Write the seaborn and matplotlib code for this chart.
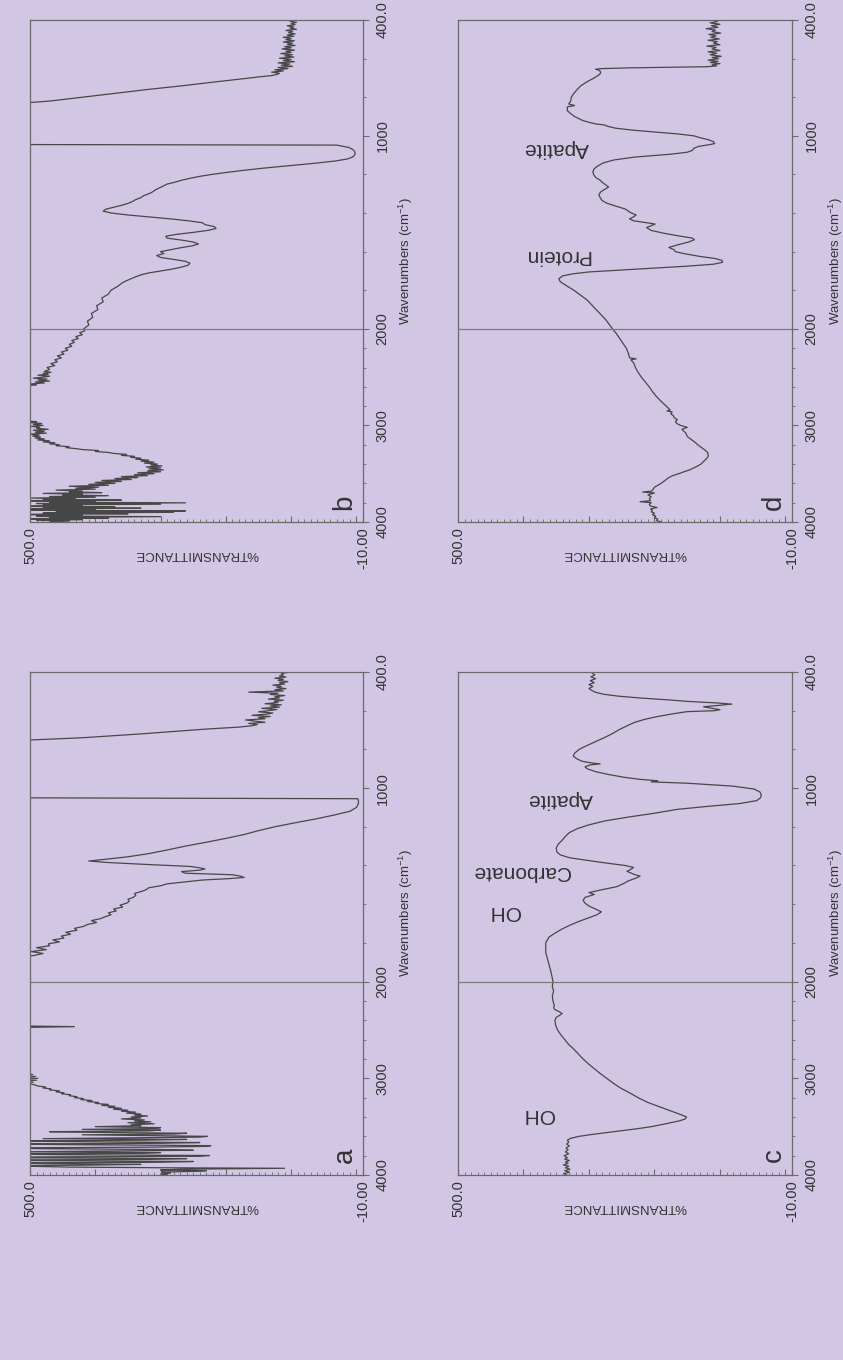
import numpy as np
import matplotlib
matplotlib.use("Agg")
import matplotlib.pyplot as plt
import seaborn as sns
from matplotlib.ticker import FixedLocator, FixedFormatter, MultipleLocator

# Spectra: (wavenumber cm-1, %transmittance); values > 500 run off the plot
spec_a = [(4000, 290), (3990, 300), (3980, 285), (3970, 298), (3962, 250), (3955, 230), (3948, 300),
          (3940, 270), (3930, 110), (3925, 290), (3918, 440), (3910, 495), (3905, 560), (3898, 420),
          (3890, 330), (3882, 480), (3875, 560), (3868, 300), (3860, 250), (3852, 470), (3845, 560),
          (3838, 320), (3830, 260), (3822, 500), (3815, 560), (3806, 240), (3798, 225), (3790, 450),
          (3782, 560), (3775, 330), (3768, 300), (3760, 520), (3752, 380), (3744, 250), (3736, 300),
          (3728, 480), (3720, 560), (3712, 320), (3704, 230), (3696, 223), (3688, 400), (3680, 560),
          (3672, 300), (3664, 240), (3656, 420), (3648, 560), (3640, 330), (3632, 260), (3624, 480),
          (3616, 360), (3608, 240), (3600, 228), (3592, 330), (3584, 420), (3576, 280), (3568, 260),
          (3560, 390), (3552, 470), (3544, 320), (3536, 300), (3528, 420), (3520, 310), (3510, 300),
          (3500, 400), (3490, 330), (3480, 345), (3470, 310), (3460, 350), (3450, 315), (3440, 340),
          (3430, 325), (3420, 360), (3410, 330), (3400, 345), (3390, 320), (3380, 340), (3370, 330),
          (3360, 352), (3350, 338), (3340, 360), (3330, 350), (3320, 372), (3310, 360), (3300, 380),
          (3290, 370), (3280, 390), (3270, 380), (3260, 400), (3250, 395), (3240, 412), (3230, 405),
          (3220, 422), (3210, 418), (3200, 432), (3190, 428), (3180, 440), (3170, 438), (3160, 452),
          (3150, 448), (3140, 460), (3130, 455), (3120, 470), (3110, 468), (3100, 480), (3090, 476),
          (3080, 488), (3070, 492), (3060, 498), (3050, 540), (3040, 495), (3030, 540), (3020, 490),
          (3010, 560), (3000, 488), (2990, 540), (2980, 492), (2970, 560), (2960, 496), (2950, 560),
          (2480, 560), (2466, 432), (2455, 560), (1880, 560), (1866, 495), (1855, 480), (1845, 498),
          (1835, 475), (1825, 490), (1815, 470), (1805, 472), (1795, 455), (1785, 465), (1775, 448),
          (1765, 452), (1755, 438), (1745, 445), (1735, 428), (1725, 432), (1715, 418), (1705, 412),
          (1695, 398), (1685, 406), (1675, 392), (1665, 385), (1655, 376), (1645, 380), (1635, 368),
          (1625, 372), (1615, 358), (1605, 362), (1595, 352), (1585, 348), (1575, 350), (1565, 342),
          (1555, 338), (1545, 340), (1535, 330), (1525, 322), (1515, 318), (1505, 300), (1495, 290),
          (1485, 262), (1475, 235), (1468, 195), (1462, 172), (1455, 178), (1448, 190), (1440, 262),
          (1432, 268), (1424, 240), (1418, 232), (1412, 240), (1405, 255), (1395, 320), (1385, 380),
          (1377, 410), (1370, 390), (1355, 350), (1340, 320), (1320, 290), (1300, 262), (1280, 230),
          (1260, 200), (1240, 172), (1220, 150), (1200, 125), (1180, 95), (1160, 63), (1140, 35),
          (1120, 10), (1100, 0), (1080, -3), (1065, -3), (1055, -2), (1050, 560), (760, 560),
          (740, 420), (720, 330), (705, 270), (695, 230), (685, 180), (678, 160), (672, 152),
          (666, 165), (660, 140), (654, 155), (648, 170), (642, 140), (636, 150), (630, 132),
          (624, 160), (618, 138), (612, 128), (606, 150), (600, 135), (594, 122), (588, 145),
          (582, 118), (576, 132), (570, 115), (564, 140), (558, 120), (552, 126), (546, 112),
          (540, 135), (534, 118), (528, 125), (522, 110), (516, 132), (510, 120), (504, 165),
          (498, 112), (492, 125), (486, 108), (480, 122), (474, 115), (468, 128), (462, 110),
          (456, 118), (450, 105), (444, 120), (438, 112), (432, 125), (426, 108), (420, 118),
          (414, 112), (408, 115), (402, 105), (400, 108)]

spec_b = [(4000, 470), (3990, 440), (3982, 490), (3975, 420), (3968, 560), (3960, 380), (3952, 470),
          (3945, 300), (3938, 490), (3930, 420), (3922, 560), (3915, 350), (3908, 480), (3900, 280),
          (3893, 460), (3886, 262), (3879, 500), (3872, 400), (3865, 560), (3858, 330), (3851, 480),
          (3844, 370), (3837, 560), (3830, 420), (3823, 480), (3816, 300), (3809, 490), (3802, 262),
          (3795, 470), (3788, 400), (3781, 560), (3774, 360), (3767, 480), (3760, 430), (3752, 500),
          (3744, 400), (3736, 470), (3728, 380), (3720, 450), (3712, 420), (3704, 480), (3696, 390),
          (3688, 440), (3680, 420), (3670, 460), (3660, 400), (3650, 430), (3640, 395), (3630, 440),
          (3620, 380), (3610, 410), (3600, 370), (3590, 400), (3580, 360), (3570, 390), (3560, 345),
          (3550, 370), (3540, 335), (3530, 360), (3520, 320), (3510, 340), (3500, 310), (3490, 335),
          (3480, 300), (3470, 320), (3460, 296), (3450, 318), (3440, 300), (3430, 322), (3420, 298),
          (3410, 315), (3400, 305), (3390, 325), (3380, 310), (3370, 330), (3360, 318), (3350, 338),
          (3340, 330), (3330, 346), (3320, 340), (3310, 360), (3300, 352), (3290, 372), (3280, 380),
          (3270, 400), (3260, 395), (3250, 420), (3240, 430), (3230, 445), (3220, 440), (3210, 460),
          (3200, 455), (3190, 470), (3180, 462), (3170, 480), (3160, 470), (3150, 488), (3140, 478),
          (3130, 492), (3120, 484), (3110, 496), (3100, 486), (3090, 500), (3080, 475), (3070, 492),
          (3060, 478), (3050, 495), (3040, 472), (3030, 490), (3020, 485), (3010, 498), (3000, 480),
          (2990, 495), (2980, 482), (2970, 500), (2960, 490), (2950, 530), (2600, 530), (2580, 490),
          (2570, 498), (2560, 478), (2550, 492), (2540, 470), (2530, 488), (2520, 474), (2510, 495),
          (2500, 480), (2490, 470), (2480, 488), (2470, 472), (2460, 480), (2450, 468), (2440, 478),
          (2420, 470), (2400, 474), (2380, 462), (2360, 468), (2340, 458), (2320, 462), (2300, 452),
          (2280, 458), (2260, 448), (2240, 452), (2220, 442), (2200, 446), (2180, 436), (2160, 440),
          (2140, 432), (2120, 436), (2100, 426), (2080, 430), (2060, 420), (2040, 424), (2020, 416),
          (2000, 418), (1980, 410), (1960, 412), (1940, 404), (1920, 406), (1900, 396), (1880, 398),
          (1860, 388), (1840, 390), (1820, 380), (1800, 376), (1780, 366), (1760, 358), (1750, 352),
          (1740, 345), (1730, 338), (1720, 330), (1710, 318), (1700, 300), (1690, 282), (1680, 268),
          (1670, 258), (1660, 255), (1650, 262), (1640, 280), (1630, 300), (1620, 306), (1610, 295),
          (1600, 300), (1590, 285), (1580, 270), (1570, 252), (1560, 242), (1550, 250), (1540, 268),
          (1530, 290), (1520, 292), (1510, 275), (1500, 250), (1490, 228), (1480, 215), (1470, 218),
          (1460, 232), (1450, 236), (1440, 258), (1430, 285), (1420, 318), (1410, 350), (1400, 375),
          (1390, 388), (1380, 384), (1370, 372), (1360, 360), (1350, 350), (1340, 343), (1330, 338),
          (1320, 330), (1310, 326), (1300, 318), (1290, 312), (1280, 308), (1270, 302), (1260, 296),
          (1250, 290), (1240, 278), (1230, 268), (1220, 255), (1210, 240), (1200, 222), (1190, 200),
          (1180, 176), (1170, 150), (1160, 120), (1150, 88), (1140, 58), (1130, 32), (1120, 14),
          (1110, 6), (1100, 3), (1090, 2), (1080, 3), (1070, 6), (1060, 12), (1048, 30), (1045, 530),
          (835, 530), (820, 470), (800, 420), (780, 370), (760, 320), (740, 265), (720, 215),
          (705, 175), (695, 150), (688, 130), (682, 122), (676, 118), (670, 130), (664, 112),
          (658, 125), (652, 105), (646, 120), (640, 98), (634, 115), (628, 102), (622, 120),
          (616, 95), (610, 112), (604, 100), (598, 118), (592, 96), (586, 110), (580, 98),
          (574, 116), (568, 100), (562, 108), (556, 95), (550, 114), (544, 100), (538, 110),
          (532, 94), (526, 106), (520, 98), (514, 112), (508, 95), (502, 108), (496, 100),
          (490, 112), (484, 96), (478, 106), (472, 94), (466, 104), (460, 98), (454, 108),
          (448, 92), (442, 102), (436, 96), (430, 106), (424, 94), (418, 100), (412, 92),
          (406, 102), (400, 96)]

spec_c = [(4000, 334), (3985, 338), (3970, 330), (3955, 337), (3940, 329), (3925, 336), (3910, 331),
          (3895, 339), (3880, 332), (3865, 336), (3850, 330), (3835, 337), (3820, 333), (3800, 338),
          (3780, 331), (3760, 336), (3740, 332), (3720, 335), (3700, 330), (3680, 334), (3660, 331),
          (3640, 333), (3620, 328), (3600, 315), (3580, 295), (3560, 272), (3540, 248), (3520, 225),
          (3500, 205), (3480, 190), (3460, 176), (3440, 162), (3420, 153), (3400, 151), (3380, 158),
          (3350, 170), (3300, 190), (3250, 210), (3200, 225), (3150, 238), (3100, 252), (3050, 263),
          (3000, 273), (2950, 283), (2900, 292), (2850, 301), (2800, 309), (2750, 316), (2700, 323),
          (2650, 331), (2600, 337), (2550, 343), (2500, 348), (2450, 351), (2400, 352), (2370, 350),
          (2350, 345), (2330, 341), (2310, 346), (2290, 352), (2270, 354), (2250, 353), (2200, 355),
          (2150, 356), (2100, 354), (2050, 356), (2000, 355), (1950, 358), (1900, 362), (1850, 366),
          (1800, 366), (1770, 361), (1750, 352), (1730, 342), (1710, 330), (1690, 316), (1670, 300),
          (1655, 288), (1640, 281), (1625, 290), (1610, 300), (1595, 306), (1580, 309), (1565, 306),
          (1550, 292), (1540, 300), (1525, 280), (1510, 258), (1495, 248), (1480, 240), (1465, 228),
          (1455, 222), (1445, 232), (1430, 242), (1420, 236), (1410, 232), (1400, 245), (1390, 268),
          (1375, 300), (1360, 330), (1345, 344), (1330, 349), (1310, 350), (1290, 347), (1270, 341),
          (1250, 336), (1230, 330), (1210, 318), (1190, 300), (1170, 276), (1150, 240), (1130, 200),
          (1110, 165), (1095, 120), (1080, 70), (1065, 44), (1050, 38), (1035, 37), (1020, 39),
          (1005, 48), (990, 80), (975, 150), (968, 205), (962, 195), (955, 222), (945, 245),
          (930, 270), (915, 290), (900, 303), (890, 306), (880, 298), (875, 283), (870, 296),
          (862, 310), (850, 318), (835, 324), (820, 322), (800, 315), (780, 303), (760, 290),
          (740, 277), (720, 265), (700, 255), (680, 243), (660, 230), (645, 215), (630, 195),
          (615, 170), (605, 150), (600, 108), (595, 100), (588, 112), (580, 125), (572, 100),
          (566, 82), (560, 105), (552, 150), (545, 175), (535, 220), (525, 255), (515, 278),
          (505, 290), (495, 296), (485, 300), (475, 294), (465, 300), (455, 292), (445, 298),
          (435, 290), (425, 297), (415, 291), (405, 295), (400, 292)]

spec_d = [(4000, 190), (3985, 197), (3970, 195), (3955, 200), (3940, 198), (3925, 203), (3910, 200),
          (3895, 205), (3880, 203), (3865, 206), (3850, 196), (3835, 206), (3820, 208), (3800, 205),
          (3790, 222), (3780, 206), (3760, 208), (3740, 205), (3720, 210), (3700, 200), (3690, 218),
          (3680, 204), (3660, 202), (3640, 200), (3620, 195), (3600, 190), (3580, 186), (3560, 182),
          (3540, 178), (3520, 172), (3500, 163), (3480, 155), (3460, 146), (3440, 140), (3420, 134),
          (3400, 129), (3380, 126), (3360, 123), (3340, 120), (3320, 118), (3300, 118), (3280, 119),
          (3260, 122), (3240, 126), (3220, 130), (3200, 134), (3180, 137), (3160, 141), (3140, 145),
          (3120, 149), (3100, 151), (3080, 152), (3060, 155), (3040, 158), (3020, 150), (3000, 160),
          (2980, 166), (2960, 168), (2940, 165), (2920, 170), (2900, 171), (2880, 175), (2860, 173),
          (2850, 181), (2840, 176), (2800, 182), (2750, 190), (2700, 197), (2650, 203), (2600, 208),
          (2550, 214), (2500, 220), (2450, 225), (2400, 229), (2350, 232), (2320, 236), (2310, 228),
          (2300, 238), (2250, 240), (2200, 243), (2150, 248), (2100, 253), (2050, 258), (2000, 264),
          (1950, 275), (1900, 289), (1850, 303), (1800, 323), (1775, 335), (1755, 344), (1740, 346),
          (1725, 340), (1715, 325), (1705, 300), (1695, 250), (1685, 200), (1675, 150), (1665, 110),
          (1655, 96), (1645, 97), (1635, 108), (1625, 130), (1610, 155), (1600, 168), (1590, 170),
          (1578, 178), (1565, 165), (1550, 148), (1538, 139), (1530, 142), (1520, 160), (1505, 185),
          (1490, 205), (1475, 212), (1465, 205), (1457, 199), (1450, 212), (1440, 232), (1430, 238),
          (1420, 232), (1410, 228), (1400, 235), (1390, 240), (1380, 244), (1365, 258), (1350, 272),
          (1335, 280), (1320, 283), (1305, 285), (1290, 282), (1275, 275), (1265, 270), (1250, 276),
          (1240, 280), (1230, 283), (1215, 290), (1200, 293), (1185, 294), (1170, 292), (1155, 286),
          (1140, 278), (1125, 262), (1110, 230), (1095, 175), (1085, 150), (1075, 142), (1065, 140),
          (1055, 133), (1045, 115), (1040, 108), (1030, 110), (1020, 118), (1010, 130), (1000, 140),
          (990, 165), (980, 200), (970, 235), (960, 260), (950, 272), (944, 276), (938, 290),
          (930, 300), (920, 310), (900, 322), (885, 328), (870, 333), (850, 333), (843, 322),
          (835, 331), (820, 328), (800, 327), (780, 323), (760, 318), (742, 313), (720, 303),
          (700, 292), (685, 285), (674, 282), (665, 283), (660, 285), (655, 290), (652, 282),
          (648, 240), (645, 180), (642, 120), (638, 105), (632, 112), (626, 100), (620, 115),
          (614, 103), (608, 118), (600, 102), (594, 112), (588, 98), (580, 115), (572, 105),
          (565, 118), (558, 100), (550, 112), (542, 106), (535, 120), (528, 100), (520, 110),
          (512, 104), (505, 118), (498, 101), (490, 114), (482, 106), (475, 117), (468, 99),
          (460, 112), (452, 107), (445, 121), (438, 103), (430, 113), (422, 100), (415, 115),
          (408, 104), (400, 110)]

# peak labels: (text, wavenumber, %T)
labels_c = [("OH", 3375, 377), ("OH", 1640, 429), ("Carbonate", 1433, 403), ("Apatite", 1061, 344)]
labels_d = [("Protein", 1618, 349), ("Apatite", 1067, 349)]

wn_major = [400, 1000, 2000, 3000, 4000]
wn_major_labels = ["400.0", "1000", "2000", "3000", "4000"]
tr_major = [500, 400, 300, 200, 100, 0, -10]
tr_major_labels = ["500.0", "", "", "", "", "", "-10.00"]

bg = "#d2c6e5"
ink = "#474747"
axc = "#6a6a6a"

sns.set_theme(style="white")
plt.rcParams["font.family"] = ["Liberation Sans", "DejaVu Sans"]
plt.rcParams["mathtext.default"] = "regular"


# spectrometer-style axis: below 2000 cm-1 the scale is expanded 2x
def fwd(w):
    w = np.asarray(w, dtype=float)
    return np.where(w <= 2000, w / 500.0, 4.0 + (w - 2000) / 1000.0)


def inv(p):
    p = np.asarray(p, dtype=float)
    return np.where(p <= 4.0, p * 500.0, 2000 + (p - 4.0) * 1000.0)


def draw_panel(ax, spec, letter, notes):
    wn = [p[0] for p in spec]
    tr = [p[1] for p in spec]
    sns.lineplot(x=tr, y=wn, orient="y", sort=False, estimator=None,
                 color=ink, lw=0.9, ax=ax)
    ax.set_facecolor(bg)
    ax.set_yscale("function", functions=(fwd, inv))
    ax.set_xlim(500, -10)
    ax.set_ylim(4000, 400)
    ax.axhline(2000, color="#7a7a7a", lw=0.9)
    for s in ax.spines.values():
        s.set_color(axc)
        s.set_linewidth(0.9)

    # %T axis along the bottom
    ax.xaxis.set_major_locator(FixedLocator(tr_major))
    ax.xaxis.set_major_formatter(FixedFormatter(tr_major_labels))
    ax.xaxis.set_minor_locator(MultipleLocator(10))
    ax.tick_params(axis="x", which="major", direction="in", length=4, width=0.8,
                   color=axc, labelsize=10.5, labelcolor="#333333", labelrotation=90, pad=4,
                   bottom=True, top=False)
    ax.tick_params(axis="x", which="minor", direction="in", length=2, width=0.6,
                   color=axc, bottom=True, top=False)

    # wavenumber axis on the right
    ax.yaxis.tick_right()
    ax.yaxis.set_label_position("right")
    ax.yaxis.set_major_locator(FixedLocator(wn_major))
    ax.yaxis.set_major_formatter(FixedFormatter(wn_major_labels))
    ax.yaxis.set_minor_locator(FixedLocator([w for w in range(600, 4000, 200) if w not in wn_major]))
    ax.tick_params(axis="y", which="major", direction="out", length=4, width=0.8,
                   color=axc, labelsize=10.5, labelcolor="#333333", labelrotation=90, pad=5,
                   right=True, left=False)
    ax.tick_params(axis="y", which="minor", direction="out", length=2, width=0.6,
                   color=axc, right=True, left=False)
    for t in ax.get_yticklabels():
        t.set_verticalalignment("center")

    ax.set_xlabel("%TRANSMITTANCE", fontsize=9.5, color="#333333", rotation=180)
    ax.xaxis.set_label_coords(0.5, -0.064)
    ax.xaxis.label.set_va("center")
    ax.set_ylabel("Wavenumbers (cm$^{-1}$)", fontsize=9.5, color="#333333", rotation=90)
    ax.yaxis.set_label_coords(1.13, 0.52)
    ax.yaxis.label.set_va("center")
    ax.yaxis.label.set_ha("center")

    ax.text(0.945, 0.04, letter, transform=ax.transAxes, rotation=90, fontsize=20,
            color="#333333", ha="center", va="center")
    for txt, w, t in notes:
        ax.text(t, w, txt, rotation=180, fontsize=15, color="#333333",
                ha="center", va="center")


fig = plt.figure(figsize=(8.43, 13.6), dpi=100, facecolor=bg)
ax_b = fig.add_axes([0.0356, 0.6162, 0.395, 0.3691])
ax_d = fig.add_axes([0.5433, 0.6162, 0.3962, 0.3691])
ax_a = fig.add_axes([0.0356, 0.1360, 0.395, 0.3699])
ax_c = fig.add_axes([0.5433, 0.1360, 0.3962, 0.3699])

draw_panel(ax_a, spec_a, "a", [])
draw_panel(ax_b, spec_b, "b", [])
draw_panel(ax_c, spec_c, "c", labels_c)
draw_panel(ax_d, spec_d, "d", labels_d)

fig.savefig("out.png", dpi=100, facecolor=fig.get_facecolor())
